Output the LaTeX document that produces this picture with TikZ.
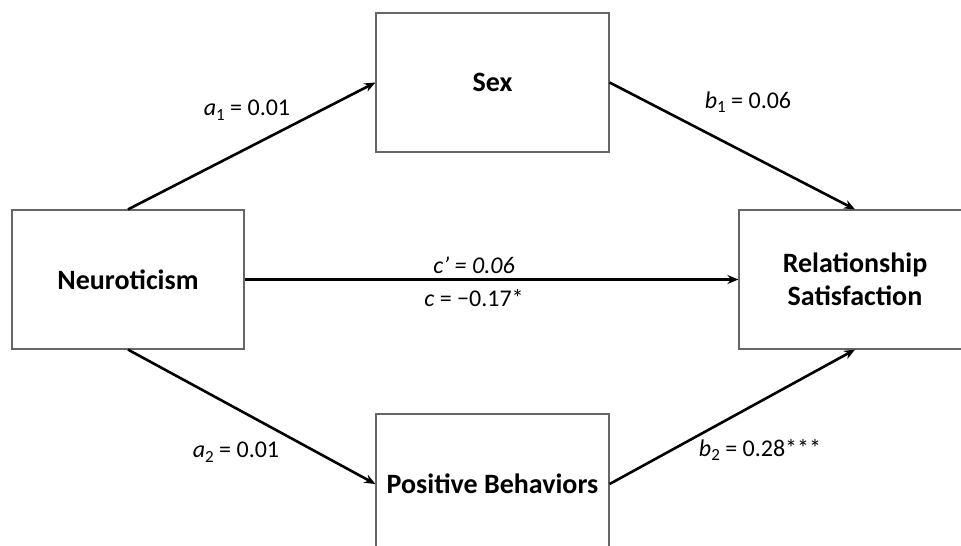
\documentclass[tikz,border=0pt]{standalone}
\usepackage{fontspec}
\setmainfont{Carlito}
\usetikzlibrary{arrows.meta}
\newcommand\lowsub[1]{\raisebox{-0.4ex}{\fontsize{17}{17}\selectfont #1}}
\begin{document}
\begin{tikzpicture}[x=1pt,y=-1pt,
  box/.style={draw=black!60, line width=1.2pt, fill=white, inner sep=0pt, align=center,
    font=\fontsize{28}{33}\selectfont\bfseries},
  link/.style={line width=2.6pt, -{Stealth[length=11pt,width=9pt]}},
  lbl/.style={font=\fontsize{24}{28}\selectfont, inner sep=0pt}]
\useasboundingbox (0,0) rectangle (961,546);
\clip (0,0) rectangle (961,546);
\node[box, minimum width=232pt, minimum height=139pt] (neu) at (128,279.5) {Neuroticism};
\node[box, minimum width=233pt, minimum height=139pt] (sex) at (492.5,82.5) {Sex};
\node[box, minimum width=233pt, minimum height=140pt] (pb) at (492.5,484) {Positive Behaviors};
\node[box, minimum width=232pt, minimum height=139pt] (rs) at (855,279.5) {Relationship\\Satisfaction};
\draw[link] (neu.north) -- (sex.west);
\draw[link] (sex.east) -- (rs.north);
\draw[link] (neu.east) -- (rs.west);
\draw[link] (neu.south) -- (pb.west);
\draw[link] (pb.east) -- (rs.south);
\node[lbl] (la1) at (247,110) {\textit{a}\lowsub{1} = 0.01};
\node[lbl] (lb1) at (748,102) {\textit{b}\lowsub{1} = 0.06};
\node[lbl] (lcp) at (474,265) {\textit{c’ = 0.06}};
\node[lbl] (lc) at (474,298) {\textit{c} = −0.17*};
\node[lbl] (la2) at (236,452) {\textit{a}\lowsub{2} = 0.01};
\node[lbl] (lb2) at (760,450) {\textit{b}\lowsub{2} = 0.28***};
\end{tikzpicture}
\end{document}
